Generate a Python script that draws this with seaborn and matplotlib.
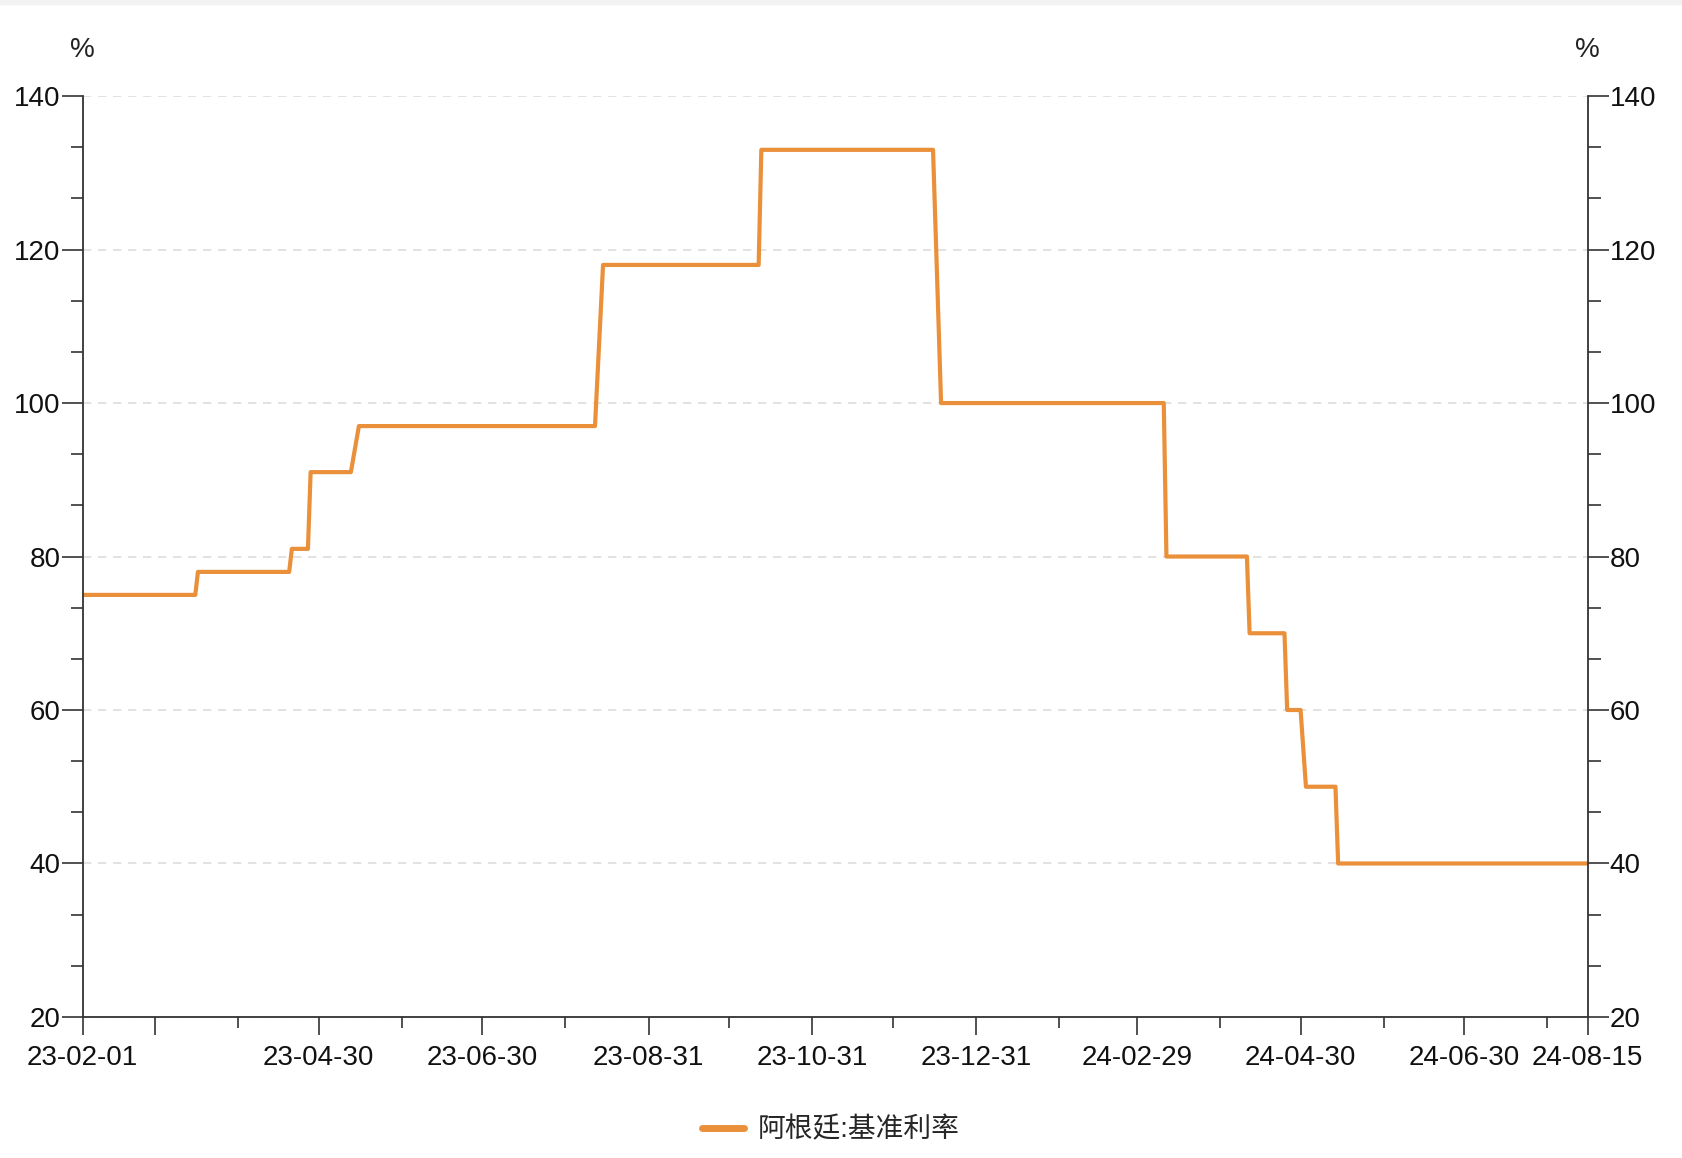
import pandas as pd
import matplotlib
matplotlib.use("Agg")
import matplotlib.pyplot as plt
import matplotlib.dates as mdates
from matplotlib.ticker import MultipleLocator, FixedLocator, NullFormatter
import seaborn as sns

# observation points of the policy rate (last day of old level, first day of new level)
dates = ["2023-02-01", "2023-03-15", "2023-03-16", "2023-04-19", "2023-04-20",
         "2023-04-26", "2023-04-27", "2023-05-12", "2023-05-15", "2023-08-11",
         "2023-08-14", "2023-10-11", "2023-10-12", "2023-12-15", "2023-12-18",
         "2024-03-10", "2024-03-11", "2024-04-10", "2024-04-11", "2024-04-24",
         "2024-04-25", "2024-04-30", "2024-05-02", "2024-05-13", "2024-05-14",
         "2024-08-15"]
rate = [75, 75, 78, 78, 81, 81, 91, 91, 97, 97, 118, 118, 133, 133, 100,
        100, 80, 80, 70, 70, 60, 60, 50, 50, 40, 40]
series_name = "阿根廷:基准利率"

major_dates = ["2023-02-01", "2023-02-28", "2023-04-30", "2023-06-30", "2023-08-31",
               "2023-10-31", "2023-12-31", "2024-02-29", "2024-04-30", "2024-06-30",
               "2024-08-15"]
major_labels = ["23-02-01", "", "23-04-30", "23-06-30", "23-08-31", "23-10-31",
                "23-12-31", "24-02-29", "24-04-30", "24-06-30", "24-08-15"]
minor_dates = ["2023-03-31", "2023-05-31", "2023-07-31", "2023-09-30", "2023-11-30",
               "2024-01-31", "2024-03-31", "2024-05-31", "2024-07-31"]

df = pd.DataFrame({"date": pd.to_datetime(dates), "rate": rate})

sns.set_theme(style="white")
plt.rcParams["font.family"] = ["Liberation Sans", "Noto Sans CJK SC"]

fig = plt.figure(figsize=(16.82, 11.58), dpi=100)
ax = fig.add_axes([0.0491, 0.1218, 0.8948, 0.7952])
fig.patches.append(plt.Rectangle((0, 0.9965), 1, 0.0035, transform=fig.transFigure,
                                 color="#f2f2f2", zorder=0))

line_color = "#EA8F3A"
axis_color = "#333333"
fs = 20

sns.lineplot(data=df, x="date", y="rate", ax=ax, color=line_color, lw=3,
             label=series_name, sort=False, estimator=None)

ax.set_xlim(pd.Timestamp(dates[0]), pd.Timestamp(dates[-1]))
ax.set_ylim(20, 140)
ax.yaxis.set_major_locator(MultipleLocator(20))
ax.yaxis.set_minor_locator(MultipleLocator(20 / 3))

ax.xaxis.set_major_locator(FixedLocator(mdates.date2num(pd.to_datetime(major_dates))))
ax.xaxis.set_minor_locator(FixedLocator(mdates.date2num(pd.to_datetime(minor_dates))))
ax.set_xticklabels(major_labels)
ax.xaxis.set_minor_formatter(NullFormatter())

ax.grid(axis="y", which="major", color="#dddddd", linestyle=(0, (5, 4)), lw=1.2)
ax.grid(axis="x", visible=False)

for side in ["left", "right", "bottom"]:
    ax.spines[side].set_visible(True)
    ax.spines[side].set_color(axis_color)
    ax.spines[side].set_linewidth(1.3)
ax.spines["top"].set_visible(False)

ax.tick_params(axis="y", which="major", left=True, right=True, labelleft=True,
               labelright=True, length=15, width=1.2, color=axis_color, pad=1,
               labelsize=fs, labelcolor="#111111")
ax.tick_params(axis="y", which="minor", left=True, right=True, length=9, width=1.2,
               color=axis_color)
ax.tick_params(axis="x", which="major", bottom=True, length=13, width=1.2,
               color=axis_color, pad=7, labelsize=fs, labelcolor="#111111")
ax.tick_params(axis="x", which="minor", bottom=True, length=8, width=1.2,
               color=axis_color)
ax.set_xlabel("")
ax.set_ylabel("")

ax.text(0, 1.05, "%", transform=ax.transAxes, ha="center", va="center",
        fontsize=fs, color="#222222")
ax.text(1, 1.05, "%", transform=ax.transAxes, ha="center", va="center",
        fontsize=fs, color="#222222")

ax.get_legend().remove()
handles, labels = ax.get_legend_handles_labels()
fig.legend(handles, labels, loc="center", bbox_to_anchor=(0.494, 0.024), frameon=False,
           fontsize=fs, handlelength=1.5, handletextpad=0.5)
for h in fig.legends[0].get_lines():
    h.set_linewidth(5)

fig.savefig("out.png", dpi=100)
